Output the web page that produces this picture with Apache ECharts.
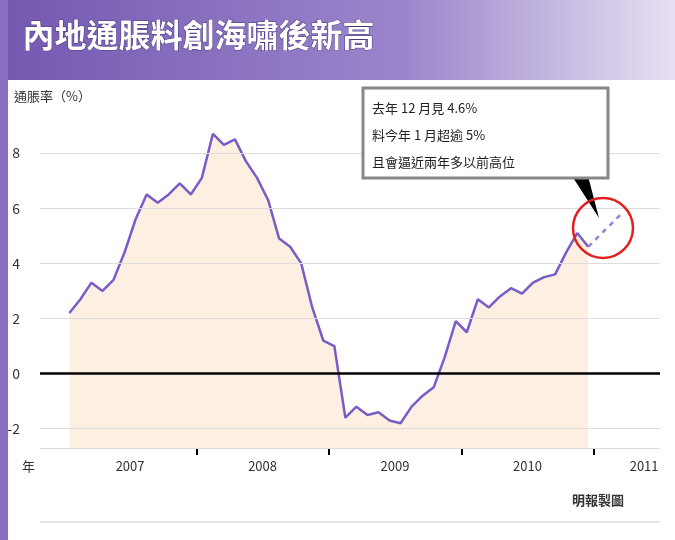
<!DOCTYPE html>
<html><head><meta charset="utf-8">
<script src="https://cdn.jsdelivr.net/npm/echarts@6/dist/echarts.min.js"></script>
<style>html,body{margin:0;padding:0;background:#fff}#c{width:675px;height:540px}</style>
</head><body><div id="c"></div>
<script>
const years = [2007, 2008, 2009, 2010];
const cpi2007 = [2.2, 2.7, 3.3, 3.0, 3.4, 4.4, 5.6, 6.5, 6.2, 6.5, 6.9, 6.5];
const cpi2008 = [7.1, 8.7, 8.3, 8.5, 7.7, 7.1, 6.3, 4.9, 4.6, 4.0, 2.4, 1.2];
const cpi2009 = [1.0, -1.6, -1.2, -1.5, -1.4, -1.7, -1.8, -1.2, -0.8, -0.5, 0.6, 1.9];
const cpi2010 = [1.5, 2.7, 2.4, 2.8, 3.1, 2.9, 3.3, 3.5, 3.6, 4.4, 5.1, 4.6];
const forecast = [[2010, 12, 4.6], [2011, 1, 5.0], [2011, 2, 5.4], [2011, 3, 5.8]];
const yTicks = [-2, 0, 2, 4, 6, 8];
const yearLabels = [2007, 2008, 2009, 2010, 2011];
const notes = ['去年 12 月見 4.6%', '料今年 1 月超逾 5%', '且會逼近兩年多以前高位'];

const pos = (y, m) => y + (m - 0.5) / 12;
const actual = [];
[cpi2007, cpi2008, cpi2009, cpi2010].forEach((arr, k) =>
  arr.forEach((v, i) => actual.push([pos(years[k], i + 1), v])));
const fc = forecast.map(d => [pos(d[0], d[1]), d[2]]);

const font = '"Noto Sans CJK TC", sans-serif';
const chart = echarts.init(document.getElementById('c'));
chart.setOption({
  animation: false,
  grid: { left: 40, right: 15, top: 98, bottom: 92 },
  xAxis: {
    type: 'value', min: 2006.82, max: 2011.5,
    splitLine: { show: false },
    axisLine: { show: false, onZero: false },
    axisTick: { show: true, length: 7, lineStyle: { color: '#000', width: 2 },
      customValues: [2008, 2009, 2010, 2011] },
    axisLabel: { customValues: yearLabels.map((y, i) => y + (i === 4 ? 0.38 : 0.5)),
      formatter: v => String(Math.floor(v)), color: '#333', fontSize: 13, margin: 12, fontFamily: font }
  },
  yAxis: {
    type: 'value', min: -2.7, max: 10,
    splitLine: { show: false },
    axisLine: { show: false }, axisTick: { show: false },
    axisLabel: { customValues: yTicks, color: '#333', fontSize: 14, margin: 20, fontFamily: font }
  },
  series: [
    {
      type: 'line', data: actual, symbol: 'none', z: 3,
      lineStyle: { color: '#7a5cc8', width: 2.5 },
      areaStyle: { color: '#fdf0e2', origin: 'start', opacity: 1 },
      markLine: {
        silent: true, symbol: 'none', label: { show: false },
        lineStyle: { color: '#ddd', width: 1, type: 'solid' },
        data: yTicks.filter(v => v !== 0).map(v => ({ yAxis: v })).concat([{ yAxis: -2.7 }])
      }
    },
    {
      type: 'line', data: fc, symbol: 'none', z: 3,
      lineStyle: { color: '#9a80dd', width: 2.5, type: [5, 5] },
      markLine: {
        silent: true, symbol: 'none', label: { show: false },
        lineStyle: { color: '#000', width: 2.5, type: 'solid' },
        data: [{ yAxis: 0 }]
      }
    }
  ],
  graphic: [
    { type: 'rect', shape: { x: 0, y: 0, width: 675, height: 80 },
      style: { fill: new echarts.graphic.LinearGradient(0, 0, 1, 0, [
        { offset: 0, color: '#7458b0' }, { offset: 0.6, color: '#9b86cc' }, { offset: 1, color: '#e6e0f2' }]) } },
    { type: 'rect', shape: { x: 0, y: 0, width: 8, height: 540 }, style: { fill: '#8a70c0' } },
    { type: 'text', left: 22, top: 18, style: { text: '內地通脹料創海嘯後新高', fill: '#fff',
      font: 'bold 32px ' + font, stroke: '#4a3680', lineWidth: 1 } },
    { type: 'text', left: 14, top: 90, style: { text: '通脹率（%）', fill: '#333', font: '13px ' + font } },
    { type: 'text', left: 22, top: 460, style: { text: '年', fill: '#333', font: '13px ' + font } },
    { type: 'text', left: 572, top: 494, style: { text: '明報製圖', fill: '#333', font: 'bold 13px ' + font } },
    { type: 'line', shape: { x1: 40, y1: 522, x2: 660, y2: 522 }, style: { stroke: '#ccc', lineWidth: 1 } },
    { type: 'polygon', shape: { points: [[572, 176], [588, 176], [599, 218]] }, style: { fill: '#000' }, z: 10 },
    { type: 'rect', shape: { x: 363, y: 88, width: 245, height: 90 },
      style: { fill: '#fff', stroke: '#888', lineWidth: 3 }, z: 10 },
    { type: 'text', left: 372, top: 95, z: 11,
      style: { text: notes.join('\n'), fill: '#222', font: '13px ' + font, lineHeight: 27 } },
    { type: 'circle', shape: { cx: 603, cy: 228, r: 30 }, style: { fill: 'none', stroke: '#e02020', lineWidth: 2.5 }, z: 10 }
  ]
});
</script></body></html>
